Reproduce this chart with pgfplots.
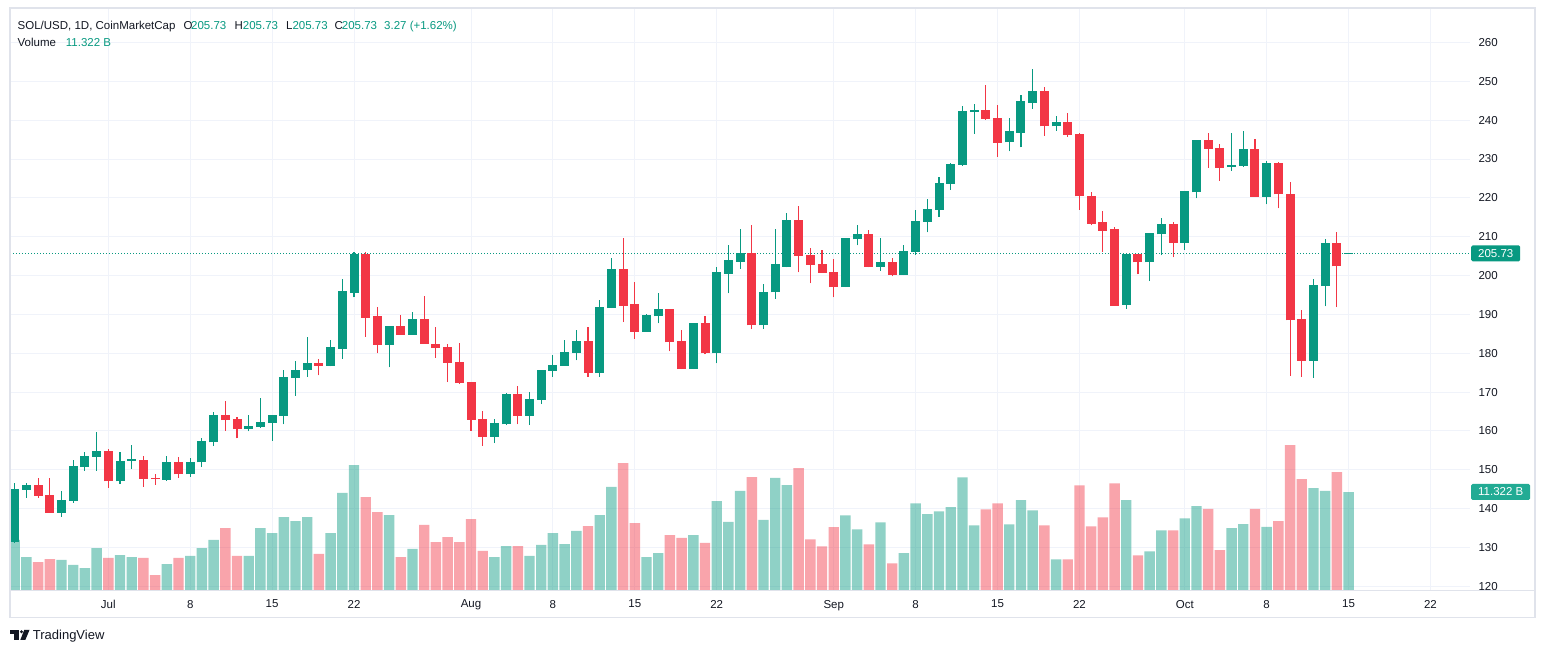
\documentclass[border=0pt]{standalone}
\usepackage{fontspec}
\setmainfont{Liberation Sans}
\usepackage{pgfplots}
\usepackage{pgfplotstable}
\pgfplotsset{compat=1.18}
\definecolor{cg}{RGB}{8,153,129}
\definecolor{cr}{RGB}{242,54,69}
\definecolor{gridc}{RGB}{240,243,250}
\definecolor{bordc}{RGB}{224,227,235}
\definecolor{txt}{RGB}{19,23,34}
\definecolor{vlab}{RGB}{34,171,148}

\pgfplotstableread{
d o h l c v
-8 131.5 146.5 131.2 145.1 5.78
-7 144.9 146.7 142.8 146.1 3.81
-4 139.0 144.5 137.9 142.2 3.47
-3 142.1 152.5 141.5 151.0 2.89
-2 150.7 154.6 149.8 153.6 2.54
-1 153.4 159.8 149.8 154.9 4.85
1 147.0 154.6 146.4 152.3 4.04
2 152.4 156.4 150.2 152.7 3.81
5 147.5 153.6 147.2 152.0 3.00
7 148.8 153.1 148.2 152.0 3.93
8 151.9 158.1 150.7 157.4 4.85
9 157.1 165.0 156.1 164.0 5.78
12 160.5 164.0 159.9 161.2 3.93
13 161.0 168.4 160.8 162.2 7.16
14 162.0 164.2 157.5 164.0 6.58
15 163.8 175.8 161.7 173.8 8.43
16 173.6 178.1 169.1 175.8 7.97
17 175.6 184.3 174.0 177.4 8.43
19 176.8 183.3 176.6 181.5 6.58
20 181.2 199.0 178.6 196.1 11.21
21 195.6 206.0 194.4 205.6 14.44
24 182.2 186.9 176.4 186.9 8.66
26 184.8 190.6 184.8 188.8 4.74
33 158.5 163.0 156.9 162.0 3.81
34 161.7 169.7 161.5 169.5 5.08
36 163.9 170.0 161.5 168.2 3.93
37 168.0 175.7 166.9 175.7 5.20
38 175.5 179.5 173.9 176.9 6.58
39 176.8 183.4 176.8 180.3 5.31
40 180.1 186.0 178.2 183.1 6.82
42 174.9 193.6 173.9 191.8 8.66
43 191.6 204.4 191.6 201.6 11.90
46 185.6 190.0 185.6 189.8 3.81
47 189.5 195.4 187.7 191.3 4.27
50 175.9 187.7 175.9 187.7 6.35
52 180.0 202.1 177.4 200.8 10.28
53 200.5 208.0 195.4 203.9 7.86
54 203.6 211.9 201.8 205.9 11.44
56 187.2 197.9 186.2 195.9 8.09
57 195.7 211.9 194.1 202.9 12.94
58 202.3 216.2 202.1 214.4 12.13
63 197.0 209.6 197.0 209.6 8.63
64 209.3 212.9 207.8 210.8 7.01
66 202.3 209.7 201.3 203.6 7.82
68 200.1 207.9 200.1 206.4 4.26
69 206.1 216.9 205.4 214.1 10.01
70 213.9 219.6 211.1 217.2 8.76
71 216.9 225.4 215.1 223.9 9.08
72 223.6 229.0 222.1 228.7 9.57
73 228.5 243.7 228.3 242.3 13.01
74 242.1 244.1 236.5 242.5 7.46
77 234.3 240.6 232.0 237.1 7.58
78 236.8 246.5 233.0 245.0 10.38
79 244.4 253.1 243.0 247.5 9.20
81 238.4 241.1 237.3 239.5 3.53
87 192.4 205.6 191.4 205.6 10.38
89 203.4 210.9 198.6 210.9 4.46
90 210.6 214.7 205.2 213.2 6.89
92 208.5 221.7 206.7 221.7 8.27
93 221.4 235.0 219.9 235.0 9.70
96 227.9 236.8 227.0 228.5 7.16
97 228.3 237.3 228.0 232.6 7.62
99 220.3 229.6 218.3 229.1 7.28
103 178.1 199.1 173.7 197.5 11.78
104 197.3 209.3 192.1 208.5 11.44
106 205.6 205.85 205.6 205.85 11.32
}\greentab

\pgfplotstableread{
d o h l c v
-6 146.1 147.9 142.8 143.3 3.23
-5 143.5 147.9 138.9 139.0 3.58
0 154.9 155.3 145.4 147.0 3.70
3 152.5 153.6 145.7 147.7 3.70
4 147.9 148.8 146.2 147.6 1.73
6 152.0 153.2 147.9 148.8 3.70
10 164.0 167.8 160.1 162.8 7.16
11 163.0 163.7 158.1 160.5 3.93
18 177.4 178.5 174.3 176.8 4.16
22 205.6 206.0 184.3 189.2 10.74
23 189.5 192.0 180.0 182.2 9.01
25 187.0 189.8 184.8 184.8 3.81
27 188.8 194.7 182.5 182.5 7.51
28 182.5 186.7 178.8 181.4 5.54
29 181.6 182.5 172.6 177.5 6.12
30 177.7 182.6 172.1 172.3 5.54
31 172.6 172.6 160.0 162.9 8.20
32 163.0 165.1 156.2 158.5 4.51
35 169.5 171.5 161.7 163.9 5.08
41 183.1 186.7 173.9 175.0 7.39
44 201.6 209.8 188.0 192.3 14.67
45 192.6 198.3 183.8 185.6 7.74
48 191.3 191.3 180.5 182.8 6.35
49 183.1 185.9 175.9 175.9 6.01
51 187.7 189.5 179.7 180.0 5.43
55 205.9 213.1 186.2 187.2 13.05
59 214.4 217.8 200.8 205.0 14.09
60 205.2 207.0 198.0 202.8 5.84
61 202.9 206.5 200.7 200.7 5.03
62 200.9 204.2 194.4 197.0 7.26
65 210.8 211.8 202.1 202.3 5.27
67 203.6 204.5 199.8 200.1 3.08
75 242.5 249.1 240.1 240.4 9.32
76 240.5 243.9 230.6 234.2 10.01
80 247.5 248.6 236.0 238.4 7.46
82 239.5 241.9 235.7 236.2 3.53
83 236.5 236.8 217.0 220.4 12.08
84 220.6 221.4 212.9 213.4 7.34
85 213.7 216.5 206.2 211.6 8.39
86 211.9 212.4 192.2 192.2 12.32
88 205.6 205.6 200.4 203.4 4.01
91 213.2 213.7 204.7 208.5 6.89
94 235.0 236.8 227.8 232.7 9.36
95 232.9 233.9 224.4 227.8 4.62
98 232.6 235.2 220.3 220.3 9.36
100 229.1 229.3 217.3 220.9 7.97
101 221.1 224.2 174.2 188.5 16.75
102 188.8 191.1 173.9 178.1 12.82
105 208.5 211.1 191.9 202.4 13.63
}\redtab

\pgfplotsset{
  myax/.style={at={(10pt,63pt)}, anchor=south west, width=1460pt, height=582pt,
    scale only axis, xmin=-8.402, xmax=116.38},
  pricey/.style={ymin=119.07, ymax=268.88},
}
\newcommand{\tvfont}{\fontsize{11.5}{13}\selectfont}

\begin{document}
\begin{tikzpicture}
\useasboundingbox (0pt,0pt) rectangle (1545pt,653pt);
\fill[white] (0pt,0pt) rectangle (1545pt,653pt);

% grid + tick labels
\begin{axis}[myax, pricey,
  axis line style={draw=none},
  xtick={0,7,14,21,31,38,45,52,62,69,76,83,92,99,106,113},
  xticklabels={Jul,8,15,22,Aug,8,15,22,Sep,8,15,22,Oct,8,15,22},
  ytick={120,130,...,260},
  yticklabel pos=right,
  /pgf/number format/assume math mode=true,
  major tick length=0pt,
  grid=major, grid style={draw=gridc, line width=1pt},
  tick label style={font=\tvfont, text=txt},
  xticklabel style={yshift=-6.5pt},
  yticklabel style={xshift=5pt},
]
\addplot[draw=none, forget plot] coordinates {(0,200) (1,200)};
\end{axis}

% volume
\begin{axis}[myax, ymin=0, ymax=67.24, hide axis]
\addplot[ybar, bar width=10.4pt, bar shift=0pt, fill=cg, fill opacity=0.45, draw=none]
  table[x=d, y=v] {\greentab};
\addplot[ybar, bar width=10.4pt, bar shift=0pt, fill=cr, fill opacity=0.45, draw=none]
  table[x=d, y=v] {\redtab};
\coordinate (vl) at (axis cs:116.38,11.322);
\end{axis}

% candles
\begin{axis}[myax, pricey, hide axis]
\addplot[cg, line width=0.8pt, dash pattern=on 1pt off 2pt] coordinates {(-8.402,205.73) (116.38,205.73)};
\addplot[draw=none, mark=none, error bars/.cd, y dir=plus, y explicit, error mark=none,
  error bar style={draw=cg, line width=1.1pt}]
  table[x=d, y=l, y error expr=\thisrow{h}-\thisrow{l}] {\greentab};
\addplot[draw=none, mark=none, error bars/.cd, y dir=plus, y explicit, error mark=none,
  error bar style={draw=cr, line width=1.1pt}]
  table[x=d, y=l, y error expr=\thisrow{h}-\thisrow{l}] {\redtab};
\addplot[draw=none, mark=none, error bars/.cd, y dir=plus, y explicit, error mark=none,
  error bar style={draw=cg, line width=9pt}]
  table[x=d, y=o, y error expr=\thisrow{c}-\thisrow{o}] {\greentab};
\addplot[draw=none, mark=none, error bars/.cd, y dir=plus, y explicit, error mark=none,
  error bar style={draw=cr, line width=9pt}]
  table[x=d, y=c, y error expr=\thisrow{o}-\thisrow{c}] {\redtab};
\coordinate (pl) at (axis cs:116.38,205.73);
\end{axis}

% frame and x axis line
\draw[bordc, line width=1.2pt] (10pt,35.5pt) rectangle (1535pt,645pt);
\draw[bordc, line width=1pt] (10pt,62.3pt) -- (1535pt,62.3pt);

% price labels on the scale
\node[fill=cg, text=white, anchor=west, minimum width=49pt, minimum height=16pt,
  inner sep=0pt, rounded corners=1.5pt, font=\tvfont] at ([xshift=1pt]pl) {205.73};
\node[fill=vlab, text=white, anchor=west, minimum width=59pt, minimum height=16pt,
  inner sep=0pt, rounded corners=1.5pt, font=\tvfont] at ([xshift=1pt]vl) {11.322 B};

% header
\begin{scope}[font=\tvfont]
\node[anchor=base west, inner sep=0pt, text=txt] at (17.5pt,623pt) {SOL/USD, 1D, CoinMarketCap};
\node[anchor=base west, inner sep=0pt, text=txt] at (183.5pt,623pt) {O};
\node[anchor=base west, inner sep=0pt, text=cg] at (191pt,623pt) {205.73};
\node[anchor=base west, inner sep=0pt, text=txt] at (234.3pt,623pt) {H};
\node[anchor=base west, inner sep=0pt, text=cg] at (242.7pt,623pt) {205.73};
\node[anchor=base west, inner sep=0pt, text=txt] at (286pt,623pt) {L};
\node[anchor=base west, inner sep=0pt, text=cg] at (292.3pt,623pt) {205.73};
\node[anchor=base west, inner sep=0pt, text=txt] at (334.3pt,623pt) {C};
\node[anchor=base west, inner sep=0pt, text=cg] at (341.7pt,623pt) {205.73};
\node[anchor=base west, inner sep=0pt, text=cg] at (384pt,623pt) {3.27 (+1.62\%)};
\node[anchor=base west, inner sep=0pt, text=txt] at (17.5pt,606.5pt) {Volume};
\node[anchor=base west, inner sep=0pt, text=cg] at (65.7pt,606.5pt) {11.322 B};
\end{scope}

% TradingView logo
\fill[txt] (10pt,23pt) rectangle (18.5pt,19.3pt);
\fill[txt] (14pt,23pt) rectangle (18.5pt,13pt);
\fill[txt] (21.5pt,21.2pt) circle (1.7pt);
\fill[txt] (24.2pt,23pt) -- (29.5pt,23pt) -- (25.3pt,13pt) -- (20.3pt,13pt) -- cycle;
\node[anchor=base west, inner sep=0pt, text=txt, font=\fontsize{13}{15}\selectfont] at (32.7pt,13pt) {TradingView};
\end{tikzpicture}
\end{document}
